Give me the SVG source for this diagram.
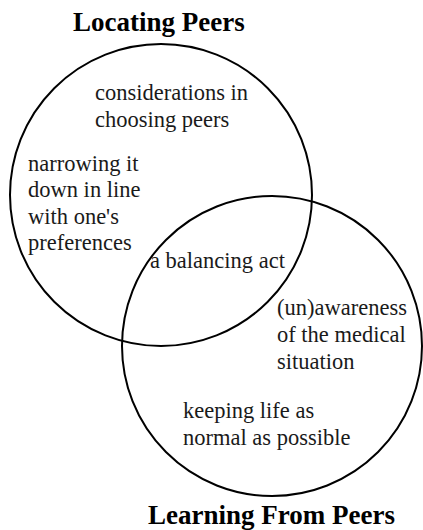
<svg xmlns="http://www.w3.org/2000/svg" width="423" height="530" viewBox="0 0 423 530">
<style>
.c{fill:none;stroke:#000;stroke-width:2}
.t{font-family:"Liberation Serif","DejaVu Serif",serif;font-size:22.5px;fill:#1a1a1a}
.h{font-family:"Liberation Serif","DejaVu Serif",serif;font-size:27px;font-weight:bold;fill:#000}
</style>
<rect width="423" height="530" fill="#fff"/>
<g id="locating">
<circle class="c" cx="161" cy="195" r="151"/>
<text class="h" x="73" y="31">Locating Peers</text>
</g>
<g id="learning">
<circle class="c" cx="272" cy="346" r="150"/>
<text class="h" x="148" y="524">Learning From Peers</text>
</g>
<g id="considerations">
<text class="t" x="95" y="100">considerations in</text>
<text class="t" x="95" y="127">choosing peers</text>
</g>
<g id="narrowing">
<text class="t" x="28" y="171">narrowing it</text>
<text class="t" x="28" y="197">down in line</text>
<text class="t" x="28" y="224">with one's</text>
<text class="t" x="28" y="250">preferences</text>
</g>
<g id="balancing">
<text class="t" x="150" y="268">a balancing act</text>
</g>
<g id="awareness">
<text class="t" x="277" y="315">(un)awareness</text>
<text class="t" x="277" y="342">of the medical</text>
<text class="t" x="277" y="369">situation</text>
</g>
<g id="normal">
<text class="t" x="183" y="418">keeping life as</text>
<text class="t" x="183" y="445">normal as possible</text>
</g>
<g id="connectors"></g>
</svg>
